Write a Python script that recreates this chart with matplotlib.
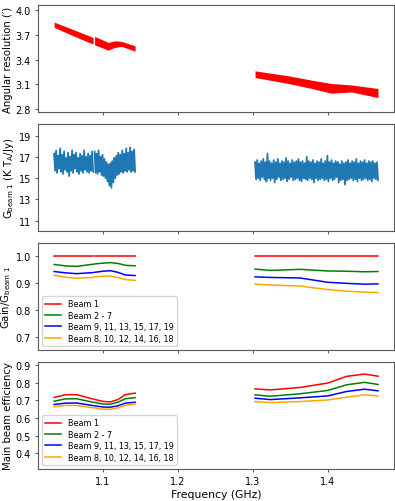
import numpy as np
import matplotlib
matplotlib.use("Agg")
import matplotlib.pyplot as plt

# sub-band edges (GHz); lower band has a tiny gap near 1.088
band1a = [1.035, 1.087]
band1b = [1.089, 1.143]
band2 = [1.303, 1.467]

# --- angular resolution envelope (arcmin) ---
res_f1a = [1.035, 1.060, 1.087]
res_hi1a = [3.854, 3.765, 3.668]
res_lo1a = [3.790, 3.690, 3.587]
res_f1b = [1.089, 1.1005, 1.107, 1.116, 1.125, 1.143]
res_hi1b = [3.680, 3.635, 3.607, 3.627, 3.620, 3.566]
res_lo1b = [3.578, 3.538, 3.514, 3.547, 3.559, 3.502]
res_f2 = [1.303, 1.348, 1.3785, 1.405, 1.4315, 1.467]
res_hi2 = [3.263, 3.202, 3.150, 3.109, 3.092, 3.049]
res_lo2 = [3.182, 3.109, 3.049, 2.992, 3.007, 2.939]

# --- beam 1 gain per channel (K T_A / Jy) ---
g1a = [17.3, 15.7, 17.6, 15.5, 17.1, 15.9, 17.8, 15.6, 17.2, 15.4,
       17.5, 15.8, 16.9, 15.6, 17.4, 15.2, 17.0, 15.7, 17.6, 15.5,
       17.2, 15.9, 17.4, 15.6, 16.9, 15.4, 17.3, 15.7, 17.1, 15.5,
       17.6, 15.8, 17.0, 15.6, 17.3, 15.5, 17.1, 15.7, 17.5, 15.6]
g1b = [17.5, 15.5, 17.3, 15.4, 17.6, 15.6, 17.0, 15.3, 17.2, 15.2,
       16.8, 15.0, 16.5, 14.7, 16.3, 14.3, 16.4, 14.1, 16.6, 14.6,
       16.9, 15.0, 17.1, 15.3, 17.4, 15.4, 17.2, 15.6, 17.6, 15.5,
       17.3, 15.7, 17.8, 15.6, 17.4, 15.8, 17.9, 15.6, 17.5, 15.7,
       17.7, 15.6]
g2 = [16.5, 14.9, 16.7, 15.0, 16.4, 14.8, 16.6, 15.1, 16.8, 14.9,
      16.5, 14.7, 17.3, 15.0, 16.6, 14.8, 16.4, 15.0, 16.7, 14.6,
      16.5, 14.9, 16.8, 15.1, 16.4, 14.8, 16.6, 14.9, 16.5, 15.0,
      16.9, 14.7, 16.6, 14.9, 16.4, 15.1, 16.7, 14.8, 16.5, 14.9,
      16.6, 15.0, 16.8, 14.8, 16.5, 14.7, 16.6, 15.0, 16.4, 14.9,
      17.0, 14.8, 16.6, 15.0, 16.5, 14.9, 16.7, 14.6, 16.4, 15.0,
      16.6, 14.8, 16.5, 14.9, 16.8, 15.0, 16.4, 14.8, 16.6, 14.9,
      17.1, 14.7, 16.5, 15.0, 16.7, 14.8, 16.4, 14.9, 16.6, 15.1,
      16.5, 14.6, 16.3, 14.8, 16.6, 14.9, 16.4, 14.4, 16.5, 14.8,
      16.7, 14.9, 16.4, 15.0, 16.6, 14.8, 16.5, 14.9, 16.8, 14.7,
      16.4, 15.0, 16.6, 14.8, 16.5, 14.9, 16.7, 15.0, 16.4, 14.8,
      16.6, 14.9, 16.5, 14.7, 16.6, 15.0, 16.4, 14.9, 16.5, 14.8]

# --- smooth curves: sample frequencies ---
c_f1a = [1.035, 1.050, 1.065, 1.087]
c_f1b = [1.089, 1.100, 1.110, 1.120, 1.130, 1.143]
c_f2 = [1.303, 1.323, 1.363, 1.400, 1.425, 1.449, 1.467]

labels = ["Beam 1", "Beam 2 - 7", "Beam 9, 11, 13, 15, 17, 19",
          "Beam 8, 10, 12, 14, 16, 18"]
colors = ["red", "green", "blue", "orange"]

# relative gain (lower band a | lower band b | upper band)
gain_1a = [[1.0, 1.0, 1.0, 1.0],
           [0.969, 0.964, 0.962, 0.970],
           [0.943, 0.938, 0.935, 0.939],
           [0.929, 0.922, 0.918, 0.921]]
gain_1b = [[1.0, 1.0, 1.0, 1.0, 1.0, 1.0],
           [0.971, 0.974, 0.976, 0.973, 0.966, 0.964],
           [0.940, 0.944, 0.946, 0.940, 0.930, 0.928],
           [0.923, 0.926, 0.926, 0.921, 0.913, 0.910]]
gain_2 = [[1.0, 1.0, 1.0, 1.0, 1.0, 1.0, 1.0],
          [0.952, 0.947, 0.951, 0.945, 0.944, 0.942, 0.943],
          [0.923, 0.921, 0.919, 0.903, 0.899, 0.896, 0.897],
          [0.896, 0.893, 0.889, 0.876, 0.870, 0.866, 0.865]]

# main beam efficiency
eff_1a = [[0.717, 0.733, 0.733, 0.708],
          [0.696, 0.709, 0.710, 0.690],
          [0.677, 0.685, 0.686, 0.671],
          [0.665, 0.672, 0.672, 0.659]]
eff_1b = [[0.706, 0.695, 0.692, 0.705, 0.733, 0.742],
          [0.689, 0.680, 0.679, 0.690, 0.710, 0.716],
          [0.670, 0.663, 0.662, 0.670, 0.685, 0.690],
          [0.658, 0.651, 0.650, 0.658, 0.673, 0.678]]
eff_2 = [[0.766, 0.760, 0.774, 0.799, 0.837, 0.850, 0.838],
         [0.732, 0.724, 0.738, 0.757, 0.789, 0.803, 0.791],
         [0.713, 0.705, 0.715, 0.726, 0.751, 0.764, 0.755],
         [0.694, 0.688, 0.694, 0.703, 0.719, 0.732, 0.726]]


def main():
    plt.rcParams["font.family"] = "DejaVu Sans"
    plt.rcParams["axes.edgecolor"] = "0.35"
    plt.rcParams["xtick.color"] = "0.35"
    plt.rcParams["ytick.color"] = "0.35"
    plt.rcParams["xtick.labelcolor"] = "black"
    plt.rcParams["ytick.labelcolor"] = "black"

    fig, axes = plt.subplots(4, 1, figsize=(3.95, 5.02), dpi=100, sharex=True)
    fig.subplots_adjust(left=0.096, right=0.998, top=0.988, bottom=0.064, hspace=0.112)
    ax1, ax2, ax3, ax4 = axes

    # panel 1: angular resolution band
    for f, hi, lo in [(res_f1a, res_hi1a, res_lo1a), (res_f1b, res_hi1b, res_lo1b),
                      (res_f2, res_hi2, res_lo2)]:
        ax1.fill_between(f, lo, hi, color="red", linewidth=0)
    ax1.set_ylim(2.764, 4.061)
    ax1.set_yticks([2.8, 3.1, 3.4, 3.7, 4.0])
    ax1.set_ylabel("Angular resolution (′)", fontsize=7.3, labelpad=2)

    # panel 2: beam 1 gain per channel
    for (lo, hi), g in [(band1a, g1a), (band1b, g1b), (band2, g2)]:
        ax2.plot(np.linspace(lo, hi, len(g)), g, color="#1f77b4", lw=1.3)
    ax2.set_ylim(10.04, 20.09)
    ax2.set_yticks([11, 13, 15, 17, 19])
    ax2.set_ylabel(r"G$_{\rm beam\ 1}$ (K T$_{\rm A}$/Jy)", fontsize=7.3, labelpad=2)

    # panels 3 and 4: per-beam-group curves
    for ax, d1a, d1b, d2 in [(ax3, gain_1a, gain_1b, gain_2), (ax4, eff_1a, eff_1b, eff_2)]:
        for k in range(4):
            ax.plot(c_f1a, d1a[k], color=colors[k], lw=1.1, label=labels[k])
            ax.plot(c_f1b, d1b[k], color=colors[k], lw=1.1)
            ax.plot(c_f2, d2[k], color=colors[k], lw=1.1)
        ax.legend(loc="lower left", fontsize=5.8, handlelength=2.0, labelspacing=0.3)

    ax3.set_ylim(0.652, 1.049)
    ax3.set_yticks([0.7, 0.8, 0.9, 1.0])
    ax3.set_ylabel(r"Gain/G$_{\rm beam\ 1}$", fontsize=7.3, labelpad=2)

    ax4.set_ylim(0.312, 0.919)
    ax4.set_yticks([0.4, 0.5, 0.6, 0.7, 0.8, 0.9])
    ax4.set_ylabel("Main beam efficiency", fontsize=7.3, labelpad=2)
    ax4.set_xlabel("Frequency (GHz)", fontsize=7.8, labelpad=2)
    ax4.set_xticks([1.1, 1.2, 1.3, 1.4])

    for ax in axes:
        ax.tick_params(labelsize=7, width=0.7, length=2.5, pad=2.5)

    fig.savefig("out.png", dpi=100)
    plt.close(fig)


if __name__ == "__main__":
    main()
